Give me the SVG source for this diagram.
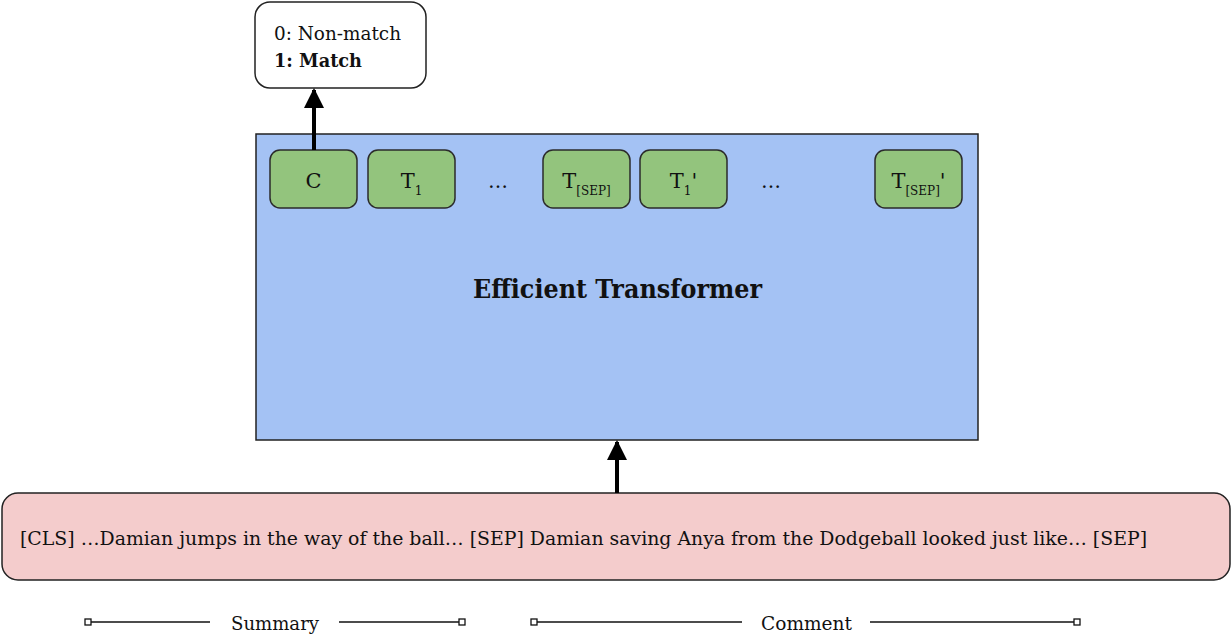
<svg xmlns="http://www.w3.org/2000/svg" width="1232" height="635" viewBox="0 0 1232 635">
  <style>
    text { font-family: 'DejaVu Serif', 'Liberation Serif', serif; fill: #111; }
    .tok { fill: #93c47d; stroke: #2b2b2b; stroke-width: 1.5; }
    .tokText { font-size: 21px; text-anchor: middle; }
    .sub { font-size: 12px; }
    .dots { font-size: 20px; text-anchor: middle; }
    .legend { stroke: #111; stroke-width: 1.3; fill: none; }
    .cap { fill: #fff; stroke: #111; stroke-width: 1.3; }
    .conn { stroke: #000; stroke-width: 4; fill: none; }
  </style>
  <defs>
    <marker id="head" viewBox="0 0 10 10" refX="9" refY="5" markerWidth="7.5" markerHeight="5" markerUnits="strokeWidth" orient="auto">
      <path d="M0,0 L10,5 L0,10 Z" fill="#000"/>
    </marker>
  </defs>

  <!-- classifier output -->
  <g id="output">
    <rect x="255" y="2" width="171" height="86" rx="15" fill="#fff" stroke="#222" stroke-width="1.5"/>
    <text x="274" y="40" font-size="19" textLength="127" lengthAdjust="spacingAndGlyphs">0: Non-match</text>
    <text x="274" y="67" font-size="19" font-weight="bold" textLength="88" lengthAdjust="spacingAndGlyphs">1: Match</text>
  </g>

  <!-- encoder -->
  <g id="transformer">
    <rect x="256" y="134" width="722" height="306" fill="#a4c2f4" stroke="#222" stroke-width="1.5"/>
    <text x="473" y="298" font-size="26" font-weight="bold" textLength="289" lengthAdjust="spacingAndGlyphs">Efficient Transformer</text>
  </g>

  <g id="tok-c">
    <rect class="tok" x="270" y="150" width="87" height="58" rx="10"/>
    <text class="tokText" x="313.5" y="188">C</text>
  </g>
  <g id="tok-t1">
    <rect class="tok" x="368" y="150" width="87" height="58" rx="10"/>
    <text class="tokText" x="411.5" y="188">T<tspan class="sub" dy="7">1</tspan></text>
  </g>
  <g id="dots-1">
    <text class="dots" x="498" y="188">…</text>
  </g>
  <g id="tok-tsep">
    <rect class="tok" x="543" y="150" width="87" height="58" rx="10"/>
    <text class="tokText" x="586.5" y="188">T<tspan class="sub" dy="7">[SEP]</tspan></text>
  </g>
  <g id="tok-t1p">
    <rect class="tok" x="640" y="150" width="87" height="58" rx="10"/>
    <text class="tokText" x="683.5" y="188">T<tspan class="sub" dy="7">1</tspan><tspan dy="-7" font-size="21">'</tspan></text>
  </g>
  <g id="dots-2">
    <text class="dots" x="771" y="188">…</text>
  </g>
  <g id="tok-tsepp">
    <rect class="tok" x="875" y="150" width="87" height="58" rx="10"/>
    <text class="tokText" x="918.5" y="188">T<tspan class="sub" dy="7">[SEP]</tspan><tspan dy="-7" font-size="21">'</tspan></text>
  </g>

  <!-- input sequence -->
  <g id="input">
    <rect x="2" y="493" width="1228" height="87" rx="16" fill="#f4cccc" stroke="#222" stroke-width="1.5"/>
    <text x="20" y="545" font-size="19" textLength="1127" lengthAdjust="spacingAndGlyphs">[CLS] …Damian jumps in the way of the ball… [SEP] Damian saving Anya from the Dodgeball looked just like… [SEP]</text>
  </g>

  <!-- arrows -->
  <g id="connectors">
    <line class="conn" x1="314" y1="150" x2="314" y2="90" marker-end="url(#head)"/>
    <line class="conn" x1="617" y1="493" x2="617" y2="442" marker-end="url(#head)"/>
  </g>

  <!-- span legend -->
  <g id="legend-summary">
    <line class="legend" x1="91" y1="622" x2="210" y2="622"/>
    <line class="legend" x1="339" y1="622" x2="459" y2="622"/>
    <rect class="cap" x="85" y="619" width="6" height="6"/>
    <rect class="cap" x="459" y="619" width="6" height="6"/>
    <text x="231" y="630" font-size="19" textLength="88" lengthAdjust="spacingAndGlyphs">Summary</text>
  </g>
  <g id="legend-comment">
    <line class="legend" x1="537" y1="622" x2="742" y2="622"/>
    <line class="legend" x1="870" y1="622" x2="1074" y2="622"/>
    <rect class="cap" x="531" y="619" width="6" height="6"/>
    <rect class="cap" x="1074" y="619" width="6" height="6"/>
    <text x="761" y="630" font-size="19" textLength="91" lengthAdjust="spacingAndGlyphs">Comment</text>
  </g>
</svg>
